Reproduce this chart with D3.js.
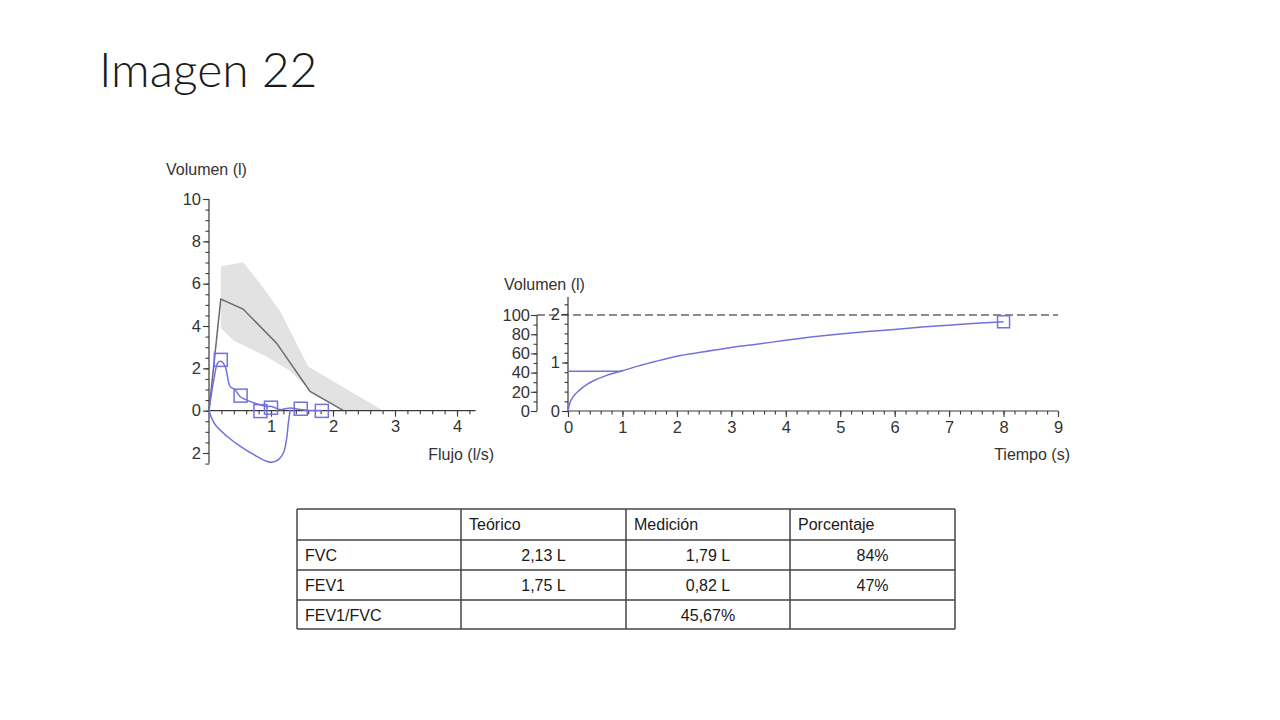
<!DOCTYPE html>
<html><head><meta charset="utf-8">
<script src="https://cdn.jsdelivr.net/npm/d3@7"></script>
<style>
html,body{margin:0;padding:0;background:#fff;}
svg{display:block;}
</style></head>
<body><svg id="c" width="1280" height="720"></svg>
<script>
// ---------- DATA ----------
const titleText = "Imagen 22";
// Left chart (flow-volume loop)
const predFlow = [0, 0.19, 0.55, 1.09, 1.63, 2.17];
const predVol  = [0, 5.27, 4.80, 3.19, 0.91, 0];
const bandUpperFlow = [0.19, 0.55, 0.82, 1.15, 1.60, 2.81];
const bandUpperVol  = [6.81, 7.01, 6.02, 4.68, 2.09, 0];
const bandLowerFlow = [0.19, 0.40, 0.90, 1.30, 1.63, 2.16];
const bandLowerVol  = [3.90, 3.30, 2.60, 1.90, 0.95, 0];
const expFlow = [0, 0.08, 0.14, 0.19, 0.26, 0.34, 0.42, 0.50, 0.66, 0.82, 0.93, 1.01, 1.15, 1.31, 1.47, 1.63, 1.82];
const expVol  = [0, 1.50, 2.25, 2.33, 2.09, 1.15, 0.99, 0.67, 0.44, 0.28, 0.20, 0.20, 0.05, 0.13, 0.05, 0.01, 0.01];
const inspFlow = [0, 0.05, 0.12, 0.29, 0.50, 0.77, 0.93, 1.01, 1.12, 1.20, 1.25, 1.28, 1.31];
const inspVol  = [0, -0.40, -0.74, -1.21, -1.68, -2.16, -2.39, -2.44, -2.31, -2.00, -1.37, -0.58, 0.05];
const markerFlow = [0.19, 0.51, 0.83, 1.00, 1.48, 1.82];
const markerVol  = [2.40, 0.71, -0.02, 0.14, 0.09, -0.01];
const leftXTicks = [1, 2, 3, 4];
const leftYTicks = [-2, 0, 2, 4, 6, 8, 10];
// Right chart (volume-time)
const timeS = [0, 0.03, 0.10, 0.20, 0.35, 0.50, 0.70, 1.00, 1.30, 1.60, 2.00, 2.50, 3.00, 3.50, 4.00, 4.50, 5.00, 5.50, 6.00, 6.50, 7.00, 7.50, 8.00];
const volL  = [0, 0.15, 0.30, 0.42, 0.55, 0.64, 0.73, 0.83, 0.93, 1.02, 1.13, 1.22, 1.31, 1.38, 1.46, 1.53, 1.59, 1.64, 1.68, 1.73, 1.77, 1.81, 1.84];
const fev1Time = 1, fev1Vol = 0.82;
const endMarkerTime = 8, endMarkerVol = 1.84;
const refPercent = 100;
const rightXTicks = [0, 1, 2, 3, 4, 5, 6, 7, 8, 9];
const rightYTicks = [0, 1, 2];
const percentTicks = [0, 20, 40, 60, 80, 100];
// Table
const tableHeader = ["", "Teórico", "Medición", "Porcentaje"];
const rowLabels  = ["FVC", "FEV1", "FEV1/FVC"];
const teorico    = ["2,13 L", "1,75 L", ""];
const medicion   = ["1,79 L", "0,82 L", "45,67%"];
const porcentaje = ["84%", "47%", ""];

// ---------- DRAW ----------
const svg = d3.select("#c");
const FONT = "'Liberation Sans', Arial, sans-serif";
const AX = "#3a3a3a", TXT = "#333", BLUE = "#7272dc", PRED = "#6a6a6a", BAND = "#e2e2e2";

svg.append("text").attr("x", 99).attr("y", 87)
  .attr("font-family", "Lato, 'Open Sans', sans-serif").attr("font-weight", 300)
  .attr("font-size", 48).attr("fill", "#1a1a1a").text(titleText);

function rng(a, b, step) { const n = Math.round((b - a) / step); return d3.range(n + 1).map(i => +(a + i * step).toFixed(4)); }

function axis(g, orient, scale, ext, minor, major, fmt, opts = {}) {
  const gen = orient === "bottom" ? d3.axisBottom : d3.axisLeft;
  const p0 = scale(ext[0]), p1 = scale(ext[1]);
  g.append("line")
    .attr(orient === "bottom" ? "x1" : "y1", p0).attr(orient === "bottom" ? "x2" : "y2", p1)
    .attr("stroke", AX).attr("stroke-width", 1.2);
  g.append("g").call(gen(scale).tickValues(minor).tickSize(3.5).tickFormat("").tickSizeOuter(0))
    .call(s => s.select(".domain").remove())
    .call(s => s.selectAll("line").attr("stroke", AX).attr("stroke-width", 1.1));
  g.append("g").call(gen(scale).tickValues(major).tickSize(6).tickPadding(opts.pad || 3).tickFormat(fmt).tickSizeOuter(0))
    .call(s => s.select(".domain").remove())
    .call(s => s.selectAll("line").attr("stroke", AX).attr("stroke-width", 1.1))
    .call(s => s.selectAll("text").attr("font-family", FONT).attr("font-size", 16.5).attr("fill", TXT));
}

// Left chart
const xL = d3.scaleLinear().domain([0, 4]).range([209, 457]);
const yL = d3.scaleLinear().domain([-2, 10]).range([453, 199]);
const gL = svg.append("g");
const band = bandUpperFlow.map((f, i) => [f, bandUpperVol[i]])
  .concat(bandLowerFlow.map((f, i) => [f, bandLowerVol[i]]).reverse());
gL.append("path").datum(band)
  .attr("d", d3.line().x(d => xL(d[0])).y(d => yL(d[1])))
  .attr("fill", BAND).attr("stroke", "none");
gL.append("path").datum(predFlow.map((f, i) => [f, predVol[i]]))
  .attr("d", d3.line().x(d => xL(d[0])).y(d => yL(d[1])))
  .attr("fill", "none").attr("stroke", PRED).attr("stroke-width", 1.5);

const gLx = gL.append("g").attr("transform", `translate(0,${yL(0)})`);
axis(gLx, "bottom", xL, [0, 4.3], rng(0, 4.2, 0.2), leftXTicks, d => d, { pad: 4 });
const gLy = gL.append("g").attr("transform", `translate(${xL(0)},0)`);
axis(gLy, "left", yL, [-2.5, 10], rng(-2.5, 10, 0.5), leftYTicks, d => Math.abs(d), { pad: 2 });

const lineC = d3.line().x(d => xL(d[0])).y(d => yL(d[1])).curve(d3.curveCatmullRom.alpha(0.5));
gL.append("path").datum(expFlow.map((f, i) => [f, expVol[i]])).attr("d", lineC)
  .attr("fill", "none").attr("stroke", BLUE).attr("stroke-width", 1.5);
gL.append("path").datum(inspFlow.map((f, i) => [f, inspVol[i]])).attr("d", lineC)
  .attr("fill", "none").attr("stroke", BLUE).attr("stroke-width", 1.5);
gL.selectAll("rect.mk").data(markerFlow.map((f, i) => [f, markerVol[i]])).join("rect")
  .attr("x", d => xL(d[0]) - 6.5).attr("y", d => yL(d[1]) - 6.5)
  .attr("width", 13).attr("height", 13).attr("fill", "none").attr("stroke", BLUE).attr("stroke-width", 1.5);

gL.append("text").attr("x", 166).attr("y", 175).attr("font-family", FONT).attr("font-size", 16).attr("fill", TXT).text("Volumen (l)");
gL.append("text").attr("x", 494).attr("y", 460).attr("text-anchor", "end").attr("font-family", FONT).attr("font-size", 16).attr("fill", TXT).text("Flujo (l/s)");

// Right chart
const xR = d3.scaleLinear().domain([0, 9]).range([568, 1058]);
const yR = d3.scaleLinear().domain([0, 2]).range([411, 314]);
const yP = d3.scaleLinear().domain([0, 100]).range([411, 315]);
const gR = svg.append("g");

gR.append("line").attr("x1", 537).attr("x2", xR(9)).attr("y1", yP(refPercent)).attr("y2", yP(refPercent))
  .attr("stroke", "#666").attr("stroke-width", 1.5).attr("stroke-dasharray", "8,4");

const gRx = gR.append("g").attr("transform", `translate(0,${yR(0)})`);
axis(gRx, "bottom", xR, [0, 9], rng(0, 9, 0.2), rightXTicks, d => d, { pad: 4 });
const gRy = gR.append("g").attr("transform", `translate(${xR(0)},0)`);
axis(gRy, "left", yR, [0, 2.35], rng(0, 2.2, 0.2), rightYTicks, d => d, { pad: 2 });
const gRp = gR.append("g").attr("transform", `translate(537,0)`);
axis(gRp, "left", yP, [0, 100], rng(0, 100, 10), percentTicks, d => d, { pad: 1 });

gR.append("line").attr("x1", xR(0)).attr("x2", xR(fev1Time)).attr("y1", yR(fev1Vol)).attr("y2", yR(fev1Vol))
  .attr("stroke", BLUE).attr("stroke-width", 1.5);
gR.append("path").datum(timeS.map((t, i) => [t, volL[i]]))
  .attr("d", d3.line().x(d => xR(d[0])).y(d => yR(d[1])).curve(d3.curveMonotoneX))
  .attr("fill", "none").attr("stroke", BLUE).attr("stroke-width", 1.5);
gR.append("rect").attr("x", xR(endMarkerTime) - 6).attr("y", yR(endMarkerVol) - 6)
  .attr("width", 12).attr("height", 12).attr("fill", "none").attr("stroke", BLUE).attr("stroke-width", 1.5);

gR.append("text").attr("x", 504).attr("y", 290).attr("font-family", FONT).attr("font-size", 16).attr("fill", TXT).text("Volumen (l)");
gR.append("text").attr("x", 1070).attr("y", 460).attr("text-anchor", "end").attr("font-family", FONT).attr("font-size", 16).attr("fill", TXT).text("Tiempo (s)");

// Table
const colX = [297, 461, 626, 790, 955];
const rowY = [509, 540, 570, 600, 629];
const gT = svg.append("g");
const rows = [tableHeader].concat(rowLabels.map((r, i) => [r, teorico[i], medicion[i], porcentaje[i]]));
rows.forEach((row, ri) => {
  row.forEach((cell, ci) => {
    const header = ri === 0 || ci === 0;
    const x = header ? colX[ci] + 8 : (colX[ci] + colX[ci + 1]) / 2;
    gT.append("text").attr("x", x).attr("y", rowY[ri] + 21)
      .attr("text-anchor", header ? "start" : "middle")
      .attr("font-family", FONT).attr("font-size", 16).attr("fill", "#1a1a1a").text(cell);
  });
});
colX.forEach(x => gT.append("line").attr("x1", x).attr("x2", x).attr("y1", rowY[0]).attr("y2", rowY[4]).attr("stroke", "#444").attr("stroke-width", 1.5));
rowY.forEach(y => gT.append("line").attr("x1", colX[0]).attr("x2", colX[4]).attr("y1", y).attr("y2", y).attr("stroke", "#444").attr("stroke-width", 1.5));
</script>
</body></html>
